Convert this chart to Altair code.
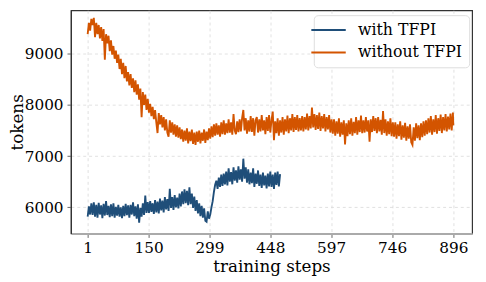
import altair as alt
import pandas as pd

series_names = ["with TFPI", "without TFPI"]
series_colors = ["#1f4e79", "#d35400"]
x_tick_values = [1, 150, 299, 448, 597, 746, 896]
y_tick_values = [6000, 7000, 8000, 9000]

without_steps = list(range(1, 896, 3)) + [896]
without_tokens = [
    9380, 9600, 9450, 9680, 9560, 9700, 9320, 9600, 9380, 9560, 9300, 9520, 9250, 9480, 8880, 9380, 9200, 9350, 9050, 9260, 8980, 9150, 8900, 9060, 8820,
    8980, 8700, 8900, 8600, 8820, 8520, 8760, 8460, 8640, 8380, 8600, 8330, 8520, 8250, 8480, 8200, 8400, 8100, 8320, 7760, 8250, 8000, 8200, 7900, 8120,
    7850, 8020, 7780, 7960, 7720, 7900, 7660, 7450, 7840, 7620, 7800, 7560, 7760, 7500, 7720, 7460, 7380, 7700, 7460, 7660, 7420, 7620, 7380, 7600, 7360,
    7560, 7330, 7520, 7280, 7500, 7300, 7540, 7250, 7480, 7290, 7520, 7240, 7460, 7220, 7480, 7280, 7500, 7250, 7460, 7300, 7520, 7260, 7480, 7310, 7540,
    7340, 7580, 7370, 7620, 7400, 7640, 7420, 7600, 7380, 7660, 7430, 7700, 7420, 7640, 7450, 7720, 7460, 7660, 7420, 7820, 7500, 7430, 7680, 7470, 7720,
    7480, 7740, 7900, 7500, 7740, 7440, 7700, 7480, 7780, 7470, 7740, 7400, 7700, 7760, 7460, 7720, 7480, 7800, 7500, 7700, 7430, 7760, 7490, 7800, 7460,
    7700, 7870, 7310, 7680, 7450, 7740, 7400, 7700, 7460, 7760, 7420, 7720, 7480, 7790, 7450, 7740, 7500, 7820, 7470, 7760, 7510, 7800, 7480, 7740, 7500,
    7780, 7480, 7760, 7520, 7830, 7500, 7780, 7540, 7950, 7560, 7820, 7510, 7800, 7530, 7850, 7490, 7780, 7540, 7820, 7480, 7760, 7520, 7800, 7460, 7720,
    7440, 7720, 7400, 7680, 7440, 7740, 7380, 7660, 7420, 7700, 7230, 7640, 7390, 7700, 7430, 7740, 7400, 7670, 7450, 7760, 7420, 7700, 7470, 7790, 7450,
    7700, 7460, 7760, 7480, 7700, 7280, 7720, 7470, 7780, 7490, 7740, 7450, 7760, 7480, 7710, 7420, 7880, 7450, 7720, 7400, 7680, 7430, 7740, 7390, 7660,
    7380, 7660, 7340, 7620, 7390, 7680, 7320, 7600, 7360, 7650, 7300, 7580, 7340, 7620, 7270, 7220, 7560, 7300, 7640, 7350, 7600, 7310, 7640, 7370, 7680,
    7400, 7700, 7430, 7740, 7460, 7780, 7420, 7720, 7470, 7800, 7440, 7740, 7490, 7810, 7450, 7760, 7500, 7820, 7480, 7770, 7520, 7830, 7500, 7850, 7600,
]

with_steps = list(range(1, 473, 3))
with_tokens = [
    5820, 6020, 5860, 6080, 5850, 6100, 5820, 6050, 5800, 6090, 5860, 6040, 5790, 6070, 5840, 6120, 5850, 6030, 5810, 6060, 5830, 6080, 5800, 6010, 5840,
    6050, 5820, 6000, 5790, 6030, 5830, 6070, 5850, 6040, 5800, 6050, 5860, 6100, 5830, 6020, 5780, 6060, 5700, 5990, 5820, 6080, 5850, 6230, 5890, 6100,
    5890, 6120, 5910, 6080, 5870, 6140, 5900, 6110, 5880, 6170, 5940, 6130, 5900, 6200, 5960, 6160, 5930, 6360, 5990, 6200, 5950, 6240, 6000, 6190, 5980,
    6270, 6020, 6310, 6060, 6350, 6080, 6320, 6040, 6390, 6060, 6270, 5990, 6210, 5930, 6140, 5880, 6080, 5830, 6030, 5800, 5980, 5740, 5720, 5920, 5780,
    5860, 6000, 6120, 6300, 6440, 6520, 6360, 6580, 6400, 6640, 6420, 6660, 6450, 6700, 6430, 6760, 6500, 6690, 6450, 6780, 6520, 6720, 6480, 6800, 6540,
    6740, 6500, 6950, 6560, 6780, 6480, 6740, 6450, 6680, 6470, 6760, 6400, 6660, 6460, 6720, 6420, 6640, 6380, 6680, 6430, 6620, 6370, 6660, 6410, 6700,
    6400, 6640, 6360, 6680, 6440, 6700, 6410, 6650,
]

df = pd.concat([
    pd.DataFrame({"step": with_steps, "tokens": with_tokens, "series": series_names[0]}),
    pd.DataFrame({"step": without_steps, "tokens": without_tokens, "series": series_names[1]}),
])

FONT = "DejaVu Serif"

chart = alt.Chart(df).mark_line(strokeWidth=1.9, clip=True).encode(
    x=alt.X("step:Q", title="training steps",
            scale=alt.Scale(domain=[-40, 942], nice=False, zero=False),
            axis=alt.Axis(values=x_tick_values, format="d", domainColor="#aaaaaa", domainWidth=2,
                          tickColor="#666666", tickSize=4, labelPadding=3, titlePadding=3,
                          labelFont=FONT, labelFontSize=15.5, titleFont=FONT, titleFontSize=17)),
    y=alt.Y("tokens:Q", title="tokens",
            scale=alt.Scale(domain=[5490, 9847], nice=False, zero=False),
            axis=alt.Axis(values=y_tick_values, format="d", domainColor="#333333", domainWidth=1.2,
                          tickColor="#666666", tickSize=4, labelPadding=4,
                          labelFont=FONT, labelFontSize=15.5, titleFont=FONT, titleFontSize=17,
                          titleX=-45, titleY=113.5, titleAngle=270, titleBaseline="bottom",
                          titleAlign="center")),
    color=alt.Color("series:N",
                    scale=alt.Scale(domain=series_names, range=series_colors),
                    legend=alt.Legend(title=None, orient="none", legendX=247, legendY=5,
                                      symbolType="M-2.5,0H2.5", symbolSize=196, symbolStrokeWidth=2,
                                      labelFontSize=16, labelFont=FONT, labelOffset=22,
                                      padding=7, rowPadding=7, strokeColor="#dddddd",
                                      fillColor="white", cornerRadius=4)),
    order="step:Q",
).properties(
    width=408, height=227,
    autosize=alt.AutoSizeParams(type="none"),
    padding={"left": 64, "top": 0, "right": 6, "bottom": 44},
).configure_view(
    stroke="#333333", strokeWidth=1.2
).configure_axis(
    labelFont=FONT, titleFont=FONT, labelFontSize=15.5, titleFontSize=17,
    titleFontWeight="normal", labelColor="black", titleColor="black",
    gridColor="#d9d9d9", gridDash=[3, 3], gridWidth=0.8
)

chart.save("out.html", embed_options={"renderer": "svg", "actions": False})
